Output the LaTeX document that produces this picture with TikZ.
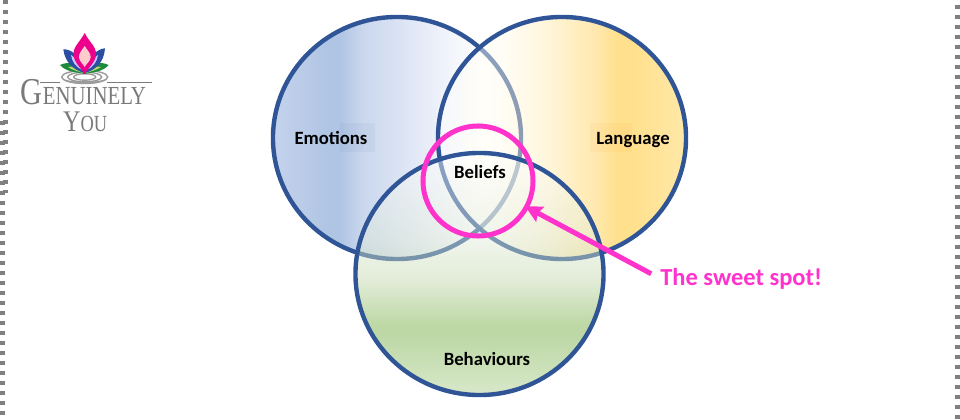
\documentclass[tikz,border=0pt]{standalone}
\usepackage{fontspec}
\usetikzlibrary{arrows.meta,shapes.geometric}
\setmainfont{Carlito}
\newfontfamily\logofont{Liberation Serif}
\definecolor{ringblue}{HTML}{2F5597}
\definecolor{spotpink}{HTML}{FF33CC}
\definecolor{edgegray}{HTML}{808080}
\definecolor{logogray}{HTML}{7A7A7A}
\definecolor{logoblue}{HTML}{2B4EA2}
\definecolor{logogreen}{HTML}{1C8A3C}
\definecolor{logolime}{HTML}{B5D66B}
\pgfdeclarehorizontalshading{emotionshade}{100bp}{
  rgb(0bp)=(0.494,0.616,0.835);
  rgb(25bp)=(0.494,0.616,0.835);
  rgb(36bp)=(0.310,0.494,0.765);
  rgb(38.5bp)=(0.310,0.494,0.765);
  rgb(43bp)=(0.537,0.651,0.843);
  rgb(58.7bp)=(0.851,0.882,0.957);
  rgb(67bp)=(1,1,1);
  rgb(100bp)=(1,1,1)}
\pgfdeclarehorizontalshading{languageshade}{100bp}{
  rgb(0bp)=(1,1,1);
  rgb(25bp)=(1,1,1);
  rgb(37.5bp)=(1,0.984,0.922);
  rgb(45.6bp)=(1,0.929,0.729);
  rgb(56.5bp)=(1,0.808,0.310);
  rgb(61.3bp)=(1,0.729,0);
  rgb(64bp)=(1,0.729,0);
  rgb(75bp)=(1,0.800,0.243);
  rgb(100bp)=(1,0.800,0.243)}
\pgfdeclareverticalshading{behaviourshade}{100bp}{
  rgb(0bp)=(0.659,0.800,0.537);
  rgb(25bp)=(0.659,0.800,0.537);
  rgb(37.4bp)=(0.424,0.659,0.216);
  rgb(39.5bp)=(0.424,0.659,0.216);
  rgb(48.8bp)=(0.749,0.835,0.659);
  rgb(57bp)=(0.871,0.914,0.835);
  rgb(75bp)=(1,1,1);
  rgb(100bp)=(1,1,1)}
\tikzset{
  venn/.style={ellipse,draw=ringblue,line width=0.11cm,minimum width=6.2cm,minimum height=6.05cm,inner sep=0pt,fill opacity=0.45},
  vennlabel/.style={font=\bfseries\fontsize{13.3}{15}\selectfont,text=black,inner sep=0pt,anchor=base},
  labelpatch/.style={fill opacity=0.05},
  edgedash/.style={edgegray,line width=0.11cm,dash pattern=on 0.1cm off 0.15cm},
  logotext/.style={text=logogray,inner sep=0pt,xscale=0.8,anchor=base west},
}
\begin{document}
\begin{tikzpicture}[x=0.025cm,y=-0.025cm]
  \useasboundingbox (0,0) rectangle (960,420);
  % dotted page edges
  \draw[edgedash] (5.5,-0.3)--(5.5,193);
  \draw[edgedash] (2.7,121)--(2.7,420);
  \draw[edgedash] (957.5,4.7)--(957.5,420);
  % the three circles
  \node[venn,shading=emotionshade] (emotions) at (397,138) {};
  \node[venn,shading=languageshade] (language) at (562,138) {};
  \node[venn,shading=behaviourshade] (behaviours) at (479.5,274) {};
  \fill[ringblue,labelpatch] (340,123) rectangle (375,152);
  \fill[orange,labelpatch] (590,123) rectangle (632,152);
  \node[vennlabel] (emotionstext) at (331,144) {Emotions};
  \node[vennlabel] (languagetext) at (633,144) {Language};
  \node[vennlabel] (beliefstext) at (480,178.5) {Beliefs};
  \node[vennlabel] (behaviourstext) at (487,365.5) {Behaviours};
  % the pink ring and its callout
  \node[circle,draw=spotpink,line width=0.125cm,minimum size=2.75cm,inner sep=0pt] (spot) at (478,181) {};
  \node[right,text=spotpink,font=\bfseries\fontsize{17.4}{20}\selectfont,inner sep=0pt] (callout) at (660,278.5) {The sweet spot!};
  \draw[-{Stealth[length=0.42cm,width=0.42cm,inset=0.06cm]},spotpink,line width=0.125cm,shorten <=0.25cm,shorten >=-0.1cm] (callout.west)--(spot);
  % logo: ripples first, petals over them
  \foreach \r/\h in {23/6.5,17/4.8,11/3.2}
    \draw[logogray!75,line width=0.035cm] (84.7,77) ellipse [x radius=\r,y radius=\h];
  \fill[logogray!75] (61.7,78)..controls (68,86) and (101,86)..(107.7,78)..controls (101,83) and (68,83)..(61.7,78);
  \fill[logogreen] (60,65)..controls (68,61) and (78,63)..(84.7,74)..controls (76,72) and (66,72)..(60,65);
  \fill[logogreen] (108.5,65)..controls (101,61) and (91,63)..(84.7,74)..controls (93,72) and (103,72)..(108.5,65);
  \fill[logolime] (68,67)..controls (74,65.5) and (79,68)..(83,73)..controls (77,71) and (72,70)..(68,67);
  \fill[logolime] (101,67)..controls (95,65.5) and (90,68)..(86,73)..controls (92,71) and (97,70)..(101,67);
  \fill[logoblue] (63.3,49.3)..controls (72,49) and (80,56)..(84.7,73)..controls (73,70) and (65,62)..(63.3,49.3);
  \fill[logoblue] (105,48.3)..controls (97,49) and (89,56)..(84.7,73)..controls (96,70) and (104,62)..(105,48.3);
  \fill[blue!22] (71,55)..controls (76,58) and (80,64)..(82,70)..controls (76,67) and (72,62)..(71,55);
  \fill[blue!22] (98,55)..controls (93,58) and (89,64)..(87,70)..controls (93,67) and (97,62)..(98,55);
  \fill[magenta] (84.7,33)..controls (80,42) and (73.5,46)..(73.5,54)..controls (73.5,62) and (81,68)..(84.7,74)..controls (88,68) and (96,62)..(96,54)..controls (96,46) and (89,42)..(84.7,33);
  \fill[pink!80] (84.7,46)..controls (82,50) and (79,53)..(79,57)..controls (79,61) and (83,64)..(84.7,67)..controls (86,64) and (90.7,61)..(90.7,57)..controls (90.7,53) and (87,50)..(84.7,46);
  \draw[logogray,line width=0.02cm] (40,82.3)--(60,82.3) (107,82.3)--(152,82.3);
  \node[logotext] (logoname) at (20.7,105) {\logofont\fontsize{27}{27}\selectfont G\fontsize{18.5}{27}\selectfont ENUINELY};
  \node[logotext] (logoyou) at (63,132) {\logofont\fontsize{21.3}{27}\selectfont Y\fontsize{16.4}{27}\selectfont OU};
\end{tikzpicture}
\end{document}
